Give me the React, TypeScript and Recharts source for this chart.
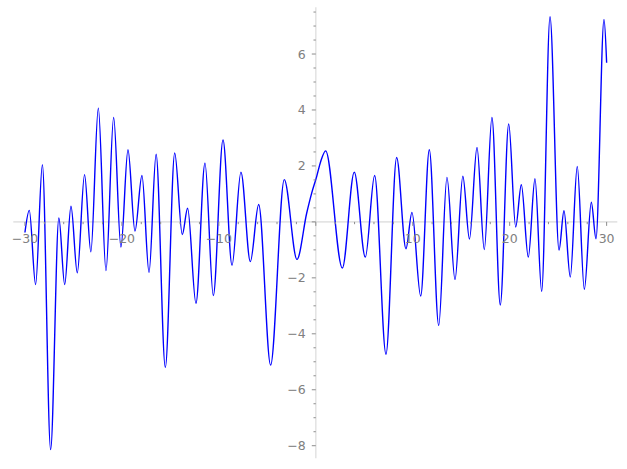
import React from 'react';
import { LineChart, Line, XAxis, YAxis, ReferenceLine } from 'recharts';

const xs = [
  -30, -29.55, -28.9, -28.2, -27.35, -26.5, -25.9, -25.25, -24.6, -23.85,
  -23.2, -22.43, -21.64, -20.85, -20.1, -19.37, -18.65, -17.93, -17.2, -16.47,
  -15.52, -14.55, -13.77, -13.22, -12.36, -11.43, -10.57, -9.57, -8.64, -7.72,
  -6.75, -5.89, -4.66, -3.25, -1.94, -0.94, -0.43, 0.09, 0.5, 1.02,
  2.74, 3.97, 5.11, 6.07, 7.24, 8.34, 9.3, 9.92, 10.82, 11.71,
  12.68, 13.53, 14.36, 15.17, 15.85, 16.63, 17.38, 18.17, 19.03, 19.9,
  20.62, 21.2, 21.92, 22.61, 23.3, 24.16, 25.09, 25.6, 26.25, 26.97,
  27.7, 28.42, 28.9, 29.73, 30,
];

const ys = [
  -0.38, 0.41, -2.24, 2.04, -8.14, 0.14, -2.24, 0.56, -1.82, 1.69,
  -1.07, 4.06, -1.74, 3.73, -0.9, 2.58, -0.33, 1.66, -1.8, 2.42,
  -5.2, 2.46, -0.45, 0.49, -2.91, 2.1, -2.63, 2.93, -1.55, 1.78,
  -1.42, 0.62, -5.12, 1.51, -1.34, 0.31, 1.02, 1.62, 2.15, 2.54,
  -1.65, 1.78, -1.26, 1.66, -4.73, 2.3, -0.96, 0.34, -2.65, 2.58,
  -3.7, 1.59, -2.06, 1.63, -0.61, 2.66, -0.99, 3.73, -2.97, 3.5,
  -0.18, 1.33, -1.26, 1.54, -2.48, 7.33, -1.01, 0.4, -1.97, 1.98,
  -2.41, 0.7, -0.6, 7.24, 5.69,
];

const xTicks: number[] = [];
for (let v = -30; v <= 30; v += 2) xTicks.push(v);
const yTicks: number[] = [];
for (let v = -8; v <= 7.5; v += 0.5) yTicks.push(v);

const xLabelTicks = [-30, -20, -10, 10, 20, 30];
const yLabelTicks = [-8, -6, -4, -2, 2, 4, 6];

const X_DOMAIN: [number, number] = [-31.2, 31.1];
const Y_DOMAIN: [number, number] = [-8.45, 7.67];

const W = 627;
const H = 469;
const PLOT = { top: 7.3, left: 13.3, right: 9.7, bottom: 10.7 };
const AXIS_SIZE = 1;
const M = { top: PLOT.top, left: PLOT.left - AXIS_SIZE, right: PLOT.right, bottom: PLOT.bottom - AXIS_SIZE };
const plotW = W - PLOT.left - PLOT.right;
const plotH = H - PLOT.top - PLOT.bottom;
const xZero = PLOT.left + plotW * (0 - X_DOMAIN[0]) / (X_DOMAIN[1] - X_DOMAIN[0]);
const yZero = PLOT.top + plotH * (Y_DOMAIN[1] - 0) / (Y_DOMAIN[1] - Y_DOMAIN[0]);

const data = xs.map((x, i) => ({ x, y: ys[i] }));

const TICK_COLOR = '#8c8c8c';
const LABEL_COLOR = '#808080';
const AXIS_COLOR = '#e4e4e4';
const FONT = '"DejaVu Sans", sans-serif';

const XTick = (props: any) => {
  const { x, payload } = props;
  const v = payload.value;
  const major = Math.abs(v % 10) < 1e-9;
  const len = major ? 4 : 2.3;
  return (
    <g>
      <line x1={x} x2={x} y1={yZero} y2={yZero + len} stroke={TICK_COLOR} strokeWidth={1} />
      {major && xLabelTicks.includes(v) ? (
        <text x={x} y={yZero + 21.6} textAnchor="middle" fill={LABEL_COLOR} fontSize={12.5} fontFamily={FONT}>
          {v < 0 ? '\u2212' + Math.abs(v) : String(v)}
        </text>
      ) : null}
    </g>
  );
};

const YTick = (props: any) => {
  const { y, payload } = props;
  const v = payload.value;
  const major = Math.abs(v % 2) < 1e-9;
  const len = major ? 4 : 2.3;
  return (
    <g>
      <line x1={xZero - len} x2={xZero} y1={y} y2={y} stroke={TICK_COLOR} strokeWidth={1} />
      {major && yLabelTicks.includes(v) ? (
        <text x={xZero - 10} y={y} dy="0.36em" textAnchor="end" fill={LABEL_COLOR} fontSize={12.5} fontFamily={FONT}>
          {v < 0 ? '\u2212' + Math.abs(v) : String(v)}
        </text>
      ) : null}
    </g>
  );
};

export default function App() {
  return (
    <div style={{ position: 'absolute', left: 0, top: 0, width: W, height: H, background: '#fff' }}>
      <LineChart width={W} height={H} data={data} margin={M}>
        <XAxis
          dataKey="x"
          type="number"
          domain={X_DOMAIN}
          ticks={xTicks}
          interval={0}
          allowDataOverflow
          height={AXIS_SIZE}
          axisLine={false}
          tickLine={false}
          tickSize={0}
          tick={XTick}
        />
        <YAxis
          type="number"
          domain={Y_DOMAIN}
          ticks={yTicks}
          interval={0}
          allowDataOverflow
          width={AXIS_SIZE}
          axisLine={false}
          tickLine={false}
          tickSize={0}
          tick={YTick}
        />
        <ReferenceLine y={0} stroke={AXIS_COLOR} strokeWidth={1.6} />
        <ReferenceLine x={0} stroke={AXIS_COLOR} strokeWidth={1.6} />
        <Line
          type="monotone"
          dataKey="y"
          stroke="#0000ff"
          strokeWidth={1.4}
          dot={false}
          isAnimationActive={false}
        />
      </LineChart>
    </div>
  );
}
